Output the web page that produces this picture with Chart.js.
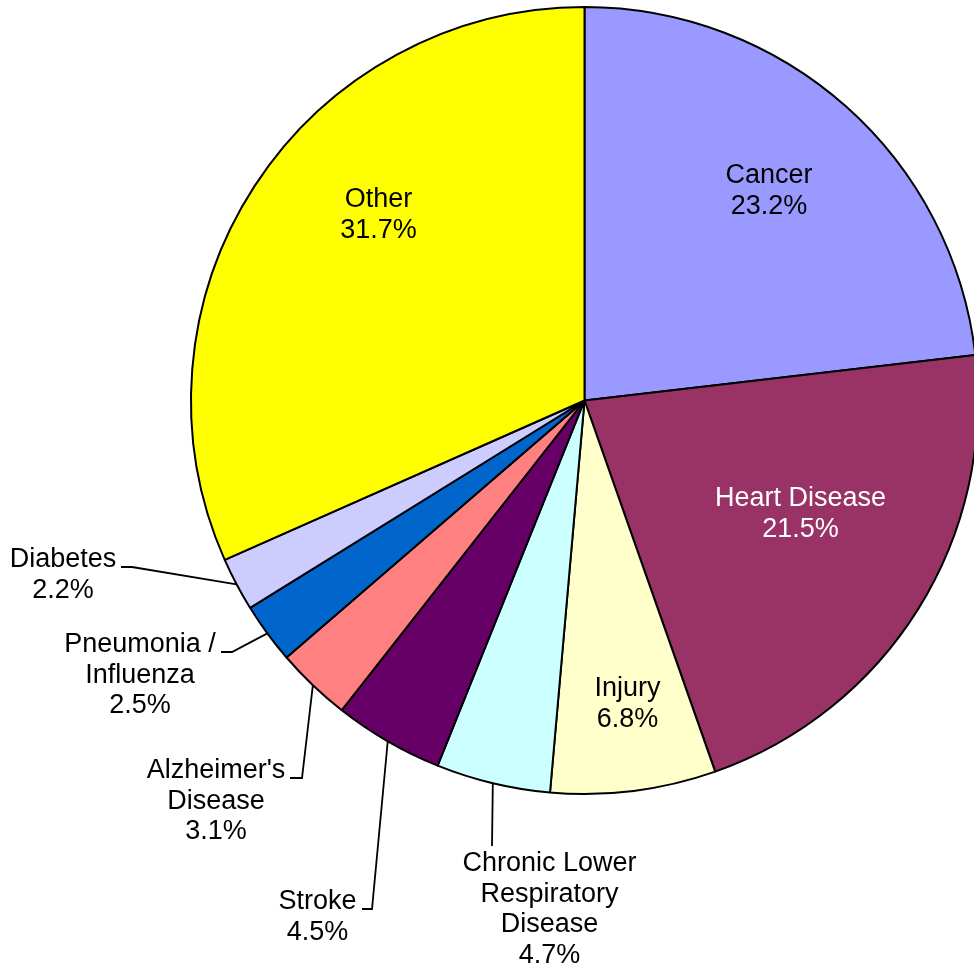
<!DOCTYPE html>
<html>
<head>
<meta charset="utf-8">
<script src="https://cdn.jsdelivr.net/npm/chart.js@4"></script>
<style>
    html, body { margin: 0; padding: 0; background: #ffffff; }
    #wrap { width: 974px; height: 970px; overflow: hidden; position: relative; }
    canvas { display: block; }
</style>
</head>
<body>
<div id="wrap"><canvas id="deathsChart" width="1000" height="970"></canvas></div>
<script>
// Causes of death, share of total (%)
const categories = [
    'Cancer',
    ['Heart Disease'],
    'Injury',
    ['Chronic Lower', 'Respiratory', 'Disease'],
    'Stroke',
    ["Alzheimer's", 'Disease'],
    ['Pneumonia /', 'Influenza'],
    'Diabetes',
    'Other'
];
const shares = [23.2, 21.5, 6.8, 4.7, 4.5, 3.1, 2.5, 2.2, 31.7];

const sliceColors = ['#9999FF', '#993366', '#FFFFCC', '#CCFFFF', '#660066', '#FF8080', '#0066CC', '#CCCCFF', '#FFFF00'];
const textColors = ['#000', '#fff', '#000', '#000', '#000', '#000', '#000', '#000', '#000'];

// label placement: text centre x, first baseline y, leader elbow points (null = inside label)
const labelLayout = [
    { x: 769, y: 183, leader: null },
    { x: 800.5, y: 506, leader: null },
    { x: 627.5, y: 696, leader: null },
    { x: 549.5, y: 871, leader: [[492, 846]] },
    { x: 317.5, y: 909, leader: [[362, 909], [372, 909]] },
    { x: 216, y: 778, leader: [[290, 778], [302, 778]] },
    { x: 140, y: 652, leader: [[221, 652], [232, 652]] },
    { x: 63, y: 567, leader: [[121, 567], [132, 567]] },
    { x: 378.5, y: 207, leader: null }
];

const sliceLabels = {
    id: 'sliceLabels',
    afterDatasetsDraw(chart) {
        const ctx = chart.ctx;
        const arcs = chart.getDatasetMeta(0).data;
        ctx.save();
        arcs.forEach((arc, i) => {
            const lay = labelLayout[i];
            if (lay.leader) {
                const mid = (arc.startAngle + arc.endAngle) / 2;
                const ex = arc.x + Math.cos(mid) * arc.outerRadius;
                const ey = arc.y + Math.sin(mid) * arc.outerRadius;
                ctx.beginPath();
                ctx.moveTo(lay.leader[0][0], lay.leader[0][1]);
                lay.leader.slice(1).forEach(p => ctx.lineTo(p[0], p[1]));
                ctx.lineTo(ex, ey);
                ctx.strokeStyle = '#000';
                ctx.lineWidth = 1.8;
                ctx.stroke();
            }
            const name = chart.data.labels[i];
            const lines = (Array.isArray(name) ? name : [name]).concat(shares[i].toFixed(1) + '%');
            ctx.font = '27px "Liberation Sans", Arial, sans-serif';
            ctx.textAlign = 'center';
            ctx.textBaseline = 'alphabetic';
            ctx.fillStyle = textColors[i];
            lines.forEach((t, k) => ctx.fillText(t, lay.x, lay.y + k * 30.5));
        });
        ctx.restore();
    }
};

const ctx = document.getElementById('deathsChart').getContext('2d');
const chart = new Chart(ctx, {
    type: 'pie',
    data: {
        labels: categories,
        datasets: [{
            data: shares,
            backgroundColor: sliceColors,
            borderColor: '#000000',
            borderWidth: 2
        }]
    },
    options: {
        responsive: false,
        animation: false,
        devicePixelRatio: 1,
        layout: {
            padding: { left: 190, right: 21, top: 6, bottom: 175 }
        },
        plugins: {
            legend: { display: false },
            tooltip: { enabled: false }
        }
    },
    plugins: [sliceLabels]
});
</script>
</body>
</html>
